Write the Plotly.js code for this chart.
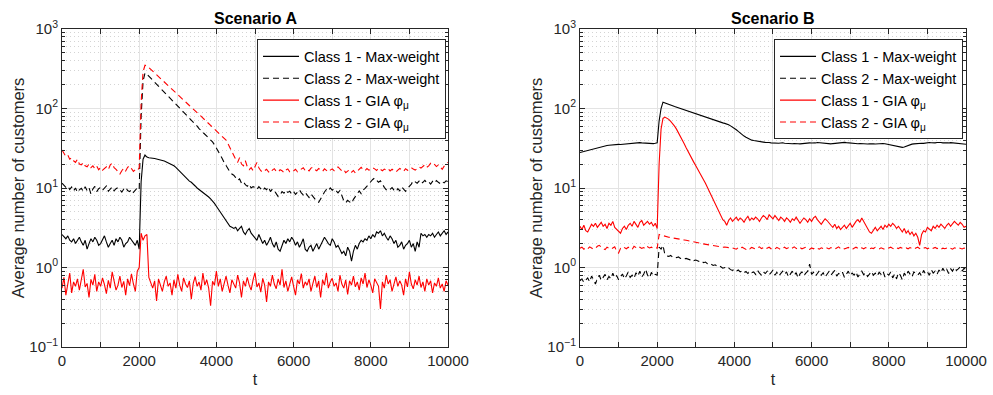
<!DOCTYPE html>
<html>
<head>
<meta charset="utf-8">
<script src="https://cdn.plot.ly/plotly-3.0.1.min.js"></script>
<style>html,body{margin:0;padding:0;background:#fff;}#chart{width:993px;height:395px;}</style>
</head>
<body>
<div id="chart"></div>
<script>
// time axis: 0..10000 step 50
const tSteps = 200;
const tStep = 50;

const seriesNames = ["Class 1 - Max-weight", "Class 2 - Max-weight", "Class 1 - GIA φ<sub>μ</sub>", "Class 2 - GIA φ<sub>μ</sub>"];
const panelTitles = ["Scenario A", "Scenario B"];
const xTickVals = [0, 2000, 4000, 6000, 8000, 10000];
const xTickLabels = ["0", "2000", "4000", "6000", "8000", "10000"];
const yTickVals = [0.1, 1, 10, 100, 1000];
const yTickLabels = ["10<sup>−1</sup>", "10<sup>0</sup>", "10<sup>1</sup>", "10<sup>2</sup>", "10<sup>3</sup>"];

// Scenario A
const A_c1_mw = [2.6,2.4,2.3,2.5,2.2,2.1,2.3,2.0,2.2,2.4,
2.1,1.9,2.2,1.7,2.0,2.3,2.1,2.4,2.2,1.9,
2.0,2.3,2.5,2.1,1.8,2.0,2.2,1.9,2.3,2.1,
2.4,2.2,1.8,2.0,2.1,2.4,2.2,2.0,1.9,2.2,
1.7,
12,23,26,24.5,
24,24,23.8,23.5,23.2,23,22.6,22.2,21.8,21.3,20.8,20.2,19.6,19.0,
18.2,17.2,16.2,15.2,14.4,13.6,12.8,12.2,11.8,11.3,
10.6,10.0,9.6,9.2,8.8,8.4,8.0,7.7,7.3,
6.9,6.4,5.9,5.4,5.0,4.6,4.2,3.8,3.5,3.3,3.2,3.1,
3.2,2.9,3.1,3.3,2.8,2.6,2.9,3.1,2.7,2.5,
2.4,2.2,2.6,2.3,2.0,2.2,1.9,2.1,2.4,2.0,
1.8,2.1,1.7,1.6,1.9,2.2,2.0,2.3,2.1,2.4,
2.2,1.9,2.1,1.8,2.0,2.3,1.7,1.6,1.8,1.9,
1.6,1.8,2.0,1.7,1.9,2.1,2.4,2.2,2.0,1.9,
2.3,2.1,1.8,1.9,1.7,1.5,1.6,1.4,1.8,1.6,
1.2,1.6,1.9,1.7,2.0,2.2,2.1,2.3,2.2,2.5,
2.3,2.6,2.4,2.8,2.7,2.9,2.5,2.7,2.4,2.2,
2.5,2.3,2.0,2.2,1.8,1.9,2.1,1.7,1.9,2.0,
2.2,1.8,2.0,1.6,2.1,1.8,2.7,2.5,2.6,2.4,
2.6,2.5,2.7,2.4,2.6,2.8,2.5,2.7,2.9,2.6,2.8];

const A_c2_mw = [11.5,10.8,10.2,10.6,9.6,10.3,9.2,10.0,8.8,9.5,
9.9,9.1,10.4,9.3,10.1,8.4,9.7,10.5,9.0,9.8,
10.2,9.4,9.9,10.6,9.1,9.6,10.3,9.2,9.8,10.1,
9.5,8.9,9.7,10.2,9.3,9.0,9.6,8.8,9.4,10.0,
9.5,
80,220,280,270,
255,240,226,213,201,190,179,169,160,151,
142,134,127,120,113,107,101,95,90,85,
80,75,71,67,63,60,56,53,50,47,
45,42,40,38,35,32,29,26,23.5,21,
19,17.5,16,15,14.5,13.5,12.5,13,11.5,12,
11,10.5,11.2,10,10.4,
10.2,9.6,10.4,9.8,9.2,10.0,9.5,10.3,9.0,9.7,
9.3,8.5,7.8,8.2,9.0,8.6,9.4,8.8,9.1,8.4,
9.0,8.3,8.9,9.5,8.7,8.2,8.8,8.1,7.6,8.4,
7.9,7.2,6.8,6.6,7.4,8.2,8.9,9.6,9.2,10.0,
9.4,9.8,9.1,8.7,9.3,7.8,6.9,6.5,7.0,6.7,
6.4,7.2,7.8,8.6,9.2,8.5,9.4,9.9,10.6,11.4,
12.0,12.8,13.4,12.6,11.8,12.3,11.0,10.2,9.5,9.2,
9.6,10.1,9.4,9.0,9.8,9.2,10.3,9.7,9.1,9.9,
10.4,11.2,12.4,12.0,11.5,12.2,11.3,11.8,12.5,11.6,
11.9,11.2,12.1,11.5,12.4,11.8,11.3,12.0,11.6,12.3,12.0];

const A_c1_gia = [0.55,0.75,0.45,0.62,0.85,0.48,0.66,0.58,0.72,0.52,
0.68,0.95,0.57,0.63,0.42,0.71,0.6,0.82,0.5,0.66,
0.58,0.74,0.61,0.47,0.69,0.55,0.88,0.64,0.52,0.6,
0.78,0.56,0.67,0.45,0.72,0.59,0.83,0.62,0.5,0.9,
1.0,
2.7,2.2,2.5,2.6,0.75,
0.62,0.55,0.68,0.38,0.72,0.6,0.5,0.66,0.78,0.58,
0.64,0.45,0.7,0.55,0.82,0.6,0.5,0.74,0.62,0.56,
0.68,0.4,0.63,0.77,0.58,0.66,0.52,0.85,0.6,0.7,
0.55,0.33,0.67,0.6,0.9,0.58,0.72,0.5,0.65,0.78,
0.6,0.48,0.7,0.62,0.55,0.8,0.64,0.42,0.68,0.58,
0.75,0.6,0.52,0.7,0.86,0.57,0.64,0.49,0.73,0.6,
0.37,0.66,0.58,0.8,0.62,0.54,0.72,0.6,0.95,0.56,
0.68,0.5,0.64,0.76,0.58,0.45,0.7,0.62,0.84,0.55,
0.66,0.6,0.72,0.5,0.63,0.78,0.56,0.68,0.42,0.7,
0.6,0.86,0.55,0.66,0.73,0.58,0.64,0.5,0.8,0.62,
0.55,0.7,0.46,0.68,0.6,0.78,0.57,0.66,0.52,0.74,
0.62,0.85,0.56,0.7,0.6,0.48,0.72,0.64,0.58,0.3,
0.66,0.55,0.8,0.62,0.7,0.5,0.64,0.76,0.58,0.68,
0.6,0.45,0.72,0.57,0.88,0.62,0.54,0.7,0.6,0.78,
0.56,0.66,0.5,0.72,0.6,0.68,0.48,0.64,0.58,0.74,
0.55,0.62,0.5,0.68,0.6];

const A_c2_gia = [30,27,25,26,23,24,22,21,23,20,
19.5,21,19,18.5,20,18,19,17.5,18.8,17,
18.2,16.8,17.6,18.5,17,19.5,20.5,18,17.2,16,
15,16.5,17.8,16.4,18.2,19,17.5,16.2,17,16.5,
18,
120,290,350,345,
327,311,295,280,266,252,239,227,216,205,
194,184,175,166,158,150,142,135,128,121,
115,109,104,98,93,89,84,80,76,72,
68,65,61,58,55,52,50,47,45,43,
40,36,32,28,25,23,21,24,20,19,
22,18.5,17,18,16.5,
19,21,18,16.5,15.8,16.5,17.2,16,15.5,16.8,
17.5,16.2,15.8,17,16.5,15.6,16.8,17.4,16,15.7,
16.4,17.2,16,16.8,17.5,18,16.6,17.2,16.4,17.8,
18.2,17,16.5,17.6,16.8,16.2,17.4,16.6,15.9,16.8,
17.4,16.5,17.8,18.4,17.2,16.4,17,15.6,16.3,17,
15.8,16.6,15.4,16.2,17.4,18.2,17,16.5,17.6,16.8,
17.2,18,17.4,16.6,17.8,17.2,16.5,17.3,16.8,17.5,
16.4,17.2,16.6,15.9,16.8,17.6,16.9,16.2,17.5,16.7,
17.2,18,17.3,16.8,17.6,18.4,17.8,18.8,19.6,18.2,
19,20.5,21,19.8,18.6,19.5,18.4,17.2,18.8,19.8,21];

// Scenario B
const B_c1_mw = [28,28.4,29,29.5,30,30.3,31,31.5,32,32.3,
33,33.4,33.8,34,34.2,34.5,34.8,34.6,35,35.2,
35.4,35.3,35.5,35.8,36,36.2,36.4,36.8,37,37.2,
37.4,37.2,37,36.8,36.6,36.4,36.2,36,36.2,36.5,
37,
70,100,120,118,
115.5,113,110.8,108.5,106,104,102,100,98,96,
94,92,90,88,86.5,85,83,81.5,80,78.5,
77,75.5,74,72.5,71,70,69,68,67,66,
65,64,62.5,60.5,58.5,56.5,54,51.5,49,47,
45,43.5,42,41,40,39.5,39,38.5,38.2,38,
37.8,37.5,37.8,37.3,37,
36.8,37.2,36.9,36.5,36.8,37.1,36.6,36.3,36.7,36.4,
36,36.3,35.8,36.1,35.9,36.2,36.5,36.3,36.6,37,
36.8,36.5,36.9,37.3,37,36.7,36.4,36.8,36.5,36.2,
35.9,36.2,36.5,36.9,37.2,37.5,37.8,37.5,37.2,36.9,
36.6,36.4,36.1,35.8,36,36.3,36.1,35.8,35.5,35.7,
35.9,36.2,36,35.7,35.9,36.2,36.5,36.3,36,35.6,
35.4,35,34.4,33.8,33.2,32.8,32.5,32.4,32.8,33.6,
34.5,35.2,35.6,35.9,36.2,36,36.3,36.6,36.4,36.8,
37,37.3,37.1,36.8,37,37.4,37.6,37.3,37,36.8,
36.6,36.9,37.2,37,36.7,36.4,36.2,36.5,36.1,35.8,35.5];

const B_c2_mw = [0.68,0.72,0.65,0.7,0.74,0.66,0.78,0.7,0.62,0.73,
0.8,0.69,0.75,0.82,0.7,0.77,0.72,0.85,0.74,0.79,
0.7,0.76,0.83,0.72,0.78,0.88,0.75,0.8,0.73,0.86,
0.78,0.9,0.76,0.82,0.95,0.8,0.74,0.87,0.78,0.82,
0.8,
1.8,1.7,1.9,1.45,1.4,
1.38,1.42,1.35,1.37,1.33,1.36,1.3,1.32,1.28,1.3,
1.27,1.25,1.28,1.22,1.24,1.2,1.18,1.21,1.15,1.17,
1.12,1.14,1.1,1.06,1.08,1.04,1.06,1.02,0.98,1.0,
0.96,0.99,0.94,0.92,0.95,0.9,0.93,0.88,0.91,0.86,
0.89,0.84,0.9,0.86,0.88,0.82,0.92,0.85,0.8,0.88,
0.84,0.9,0.81,0.86,0.93,0.8,0.87,0.78,0.85,0.9,
0.82,0.88,0.76,0.84,0.9,0.8,0.86,0.74,0.83,0.88,
0.79,0.85,0.9,1.1,0.82,0.87,0.78,0.84,0.91,0.8,
0.86,0.76,0.83,0.89,0.8,0.85,0.92,0.78,0.84,0.81,
0.87,0.75,0.83,0.9,0.79,0.85,0.8,0.88,0.76,0.84,
0.9,0.81,0.86,0.77,0.83,0.89,0.8,0.85,0.78,0.87,
0.82,0.9,0.76,0.84,0.8,0.88,0.74,0.83,0.72,0.86,
0.8,0.7,0.85,0.78,0.9,0.82,0.76,0.88,0.84,0.8,
0.86,0.78,0.92,0.83,0.88,0.8,0.94,0.85,0.9,0.82,
0.93,0.86,0.98,0.88,0.95,0.84,0.97,0.9,1.0,0.92,
0.96,1.02,0.9,0.98,0.94];

const B_c1_gia = [3.3,3.0,3.4,2.9,2.8,3.1,3.5,3.3,3.6,3.2,
3.4,3.7,3.3,3.5,3.1,3.6,3.4,3.8,3.2,3.0,
2.8,2.7,3.1,3.3,3.0,3.4,3.6,3.3,3.8,3.5,
3.2,3.7,3.9,3.4,3.6,3.8,3.5,3.7,3.3,3.6,
3.1,
20,55,75,78,
76,73,69,65,60,55,50,45,40,36,
32,28.5,25.5,23,21,19,17,15.5,14,12.7,
11.5,10.2,9,8,7.1,6.4,5.6,5,4.4,4.0,
3.8,
3.4,3.9,4.2,3.8,4.1,4.3,3.9,4.2,4.0,3.7,
4.1,4.4,3.9,4.2,4.0,4.3,4.1,3.8,4.2,4.5,
4.3,4.0,4.6,4.4,4.1,4.5,4.2,3.9,4.3,4.1,
3.8,4.2,4.0,3.7,4.1,3.9,4.3,4.0,3.6,3.9,
4.2,4.0,3.7,4.1,3.8,4.2,4.4,4.0,3.7,3.5,
3.8,4.1,3.9,3.6,3.4,3.2,3.5,3.1,3.3,3.0,
3.2,3.4,3.1,3.3,3.6,3.2,3.5,3.8,4.0,3.7,
4.2,3.8,3.4,3.0,2.8,2.7,3.0,3.2,2.9,3.1,
3.3,3.0,3.4,3.2,3.5,3.3,3.6,3.4,3.1,3.3,
3.0,2.8,3.1,2.7,2.9,2.6,2.8,2.5,2.7,2.4,
1.9,2.6,2.9,2.8,3.2,3.0,2.9,3.3,3.1,3.4,
3.2,3.5,3.3,3.1,3.4,3.6,3.3,3.5,3.8,3.6,
3.4,3.7,3.5,3.2,3.3];

const B_c2_gia = [1.75,1.8,1.7,1.78,1.72,1.82,1.76,1.7,1.74,1.85,
1.9,1.78,1.72,1.68,1.8,1.75,1.7,1.76,1.82,1.6,
1.52,1.74,1.7,1.78,1.72,1.8,1.75,1.68,1.85,1.76,
1.72,1.8,1.74,1.78,1.7,1.82,1.76,1.8,1.74,1.78,
1.75,
2.6,2.55,2.5,2.45,2.42,
2.4,2.38,2.35,2.33,2.3,2.28,2.26,2.24,2.22,2.2,
2.18,2.16,2.13,2.1,2.08,2.06,2.03,2.0,1.98,1.96,
1.94,1.92,1.9,1.88,1.86,1.85,1.84,1.82,1.8,1.81,
1.79,1.78,1.8,1.77,
1.76,1.7,1.78,1.72,1.8,1.74,1.69,1.77,1.72,1.79,
1.74,1.7,1.76,1.82,1.73,1.78,1.7,1.75,1.8,1.72,
1.76,1.71,1.79,1.74,1.68,1.75,1.8,1.73,1.77,1.7,
1.75,1.82,1.74,1.7,1.78,1.72,1.76,1.8,1.73,1.69,
1.76,1.72,1.79,1.74,1.7,1.77,1.73,1.8,1.75,1.71,
1.78,1.74,1.7,1.76,1.82,1.73,1.77,1.71,1.75,1.79,
1.73,1.68,1.75,1.8,1.74,1.7,1.77,1.72,1.78,1.74,
1.7,1.76,1.73,1.79,1.75,1.71,1.77,1.74,1.68,1.72,
1.76,1.8,1.74,1.7,1.77,1.73,1.79,1.75,1.71,1.76,
1.72,1.78,1.74,1.7,1.76,1.8,1.73,1.69,1.75,1.78,
1.72,1.76,1.7,1.74,1.79,1.73,1.77,1.7,1.75,1.72,
1.76,1.8,1.74,1.7,1.77,1.73,1.78,1.75,1.71,1.76,1.74];

const t = [];
for (let i = 0; i <= tSteps; i++) t.push(i * tStep);

const FONT = "Liberation Sans, Arial, Helvetica, sans-serif";
const TXT = "#262626";
const DASH = "6px,4px";

function mk(y, name, color, dash, xa, ya, leg) {
  return { x: t, y: y, name: name, type: "scatter", mode: "lines",
    line: { color: color, width: 1.1, dash: dash },
    xaxis: xa, yaxis: ya, legend: leg };
}

const traces = [
  mk(A_c1_mw, seriesNames[0], "#000000", "solid", "x", "y", "legend"),
  mk(A_c2_mw, seriesNames[1], "#000000", DASH, "x", "y", "legend"),
  mk(A_c1_gia, seriesNames[2], "#ff0000", "solid", "x", "y", "legend"),
  mk(A_c2_gia, seriesNames[3], "#ff0000", DASH, "x", "y", "legend"),
  mk(B_c1_mw, seriesNames[0], "#000000", "solid", "x2", "y2", "legend2"),
  mk(B_c2_mw, seriesNames[1], "#000000", DASH, "x2", "y2", "legend2"),
  mk(B_c1_gia, seriesNames[2], "#ff0000", "solid", "x2", "y2", "legend2"),
  mk(B_c2_gia, seriesNames[3], "#ff0000", DASH, "x2", "y2", "legend2")
];

const minorY = [];
for (let d = -1; d < 3; d++) for (let m = 2; m <= 9; m++) minorY.push(m * Math.pow(10, d));

function xAxis(domain, anchor) {
  return { domain: domain, anchor: anchor, range: [0, 10000],
    tickmode: "array", tickvals: xTickVals, ticktext: xTickLabels,
    ticks: "inside", ticklen: 5, tickcolor: TXT, showline: true, linecolor: TXT, linewidth: 1,
    mirror: "ticks", showgrid: true, gridcolor: "#e3e3e3", gridwidth: 1, zeroline: false,
    minor: { tickmode: "linear", tick0: 0, dtick: 1000, ticks: "inside", ticklen: 5, tickcolor: TXT,
      showgrid: true, gridcolor: "#e3e3e3", gridwidth: 1 },
    tickfont: { family: FONT, size: 15, color: TXT },
    title: { text: "t", font: { family: FONT, size: 16, color: TXT }, standoff: 5 } };
}
function yAxis(anchor) {
  return { type: "log", anchor: anchor, range: [-1, 3],
    tickmode: "array", tickvals: yTickVals, ticktext: yTickLabels,
    ticks: "inside", ticklen: 5, tickcolor: TXT, showline: true, linecolor: TXT, linewidth: 1,
    mirror: "ticks", showgrid: true, gridcolor: "#e3e3e3", gridwidth: 1, zeroline: false,
    minor: { tickmode: "array", tickvals: minorY, ticks: "inside", ticklen: 3, tickcolor: TXT,
      showgrid: true, gridcolor: "#d4d4d4", griddash: "1px,3px", gridwidth: 1 },
    tickfont: { family: FONT, size: 15, color: TXT },
    title: { text: "Average number of customers", font: { family: FONT, size: 16.5, color: TXT }, standoff: 0 } };
}
function legendOpts(x) {
  return { x: x, xanchor: "right", y: 0.967, yanchor: "top", xref: "paper", yref: "paper",
    bgcolor: "#ffffff", bordercolor: TXT, borderwidth: 1, itemwidth: 36,
    font: { family: FONT, size: 14.5, color: "#000" }, tracegroupgap: 0 };
}

const layout = {
  width: 993, height: 395,
  margin: { l: 62, r: 27, t: 29, b: 48 },
  paper_bgcolor: "#ffffff", plot_bgcolor: "#ffffff",
  showlegend: true,
  xaxis: xAxis([0, 0.427], "y"),
  yaxis: yAxis("x"),
  xaxis2: xAxis([0.573, 1], "y2"),
  yaxis2: yAxis("x2"),
  legend: legendOpts(0.4248),
  legend2: legendOpts(0.9967),
  annotations: [
    { text: "<b>" + panelTitles[0] + "</b>", x: 0.2135, y: 1, xref: "paper", yref: "paper",
      xanchor: "center", yanchor: "bottom", yshift: 0, showarrow: false,
      font: { family: FONT, size: 16, color: "#000" } },
    { text: "<b>" + panelTitles[1] + "</b>", x: 0.7865, y: 1, xref: "paper", yref: "paper",
      xanchor: "center", yanchor: "bottom", yshift: 0, showarrow: false,
      font: { family: FONT, size: 16, color: "#000" } }
  ]
};

Plotly.newPlot("chart", traces, layout, { staticPlot: true, displayModeBar: false });
</script>
</body>
</html>
